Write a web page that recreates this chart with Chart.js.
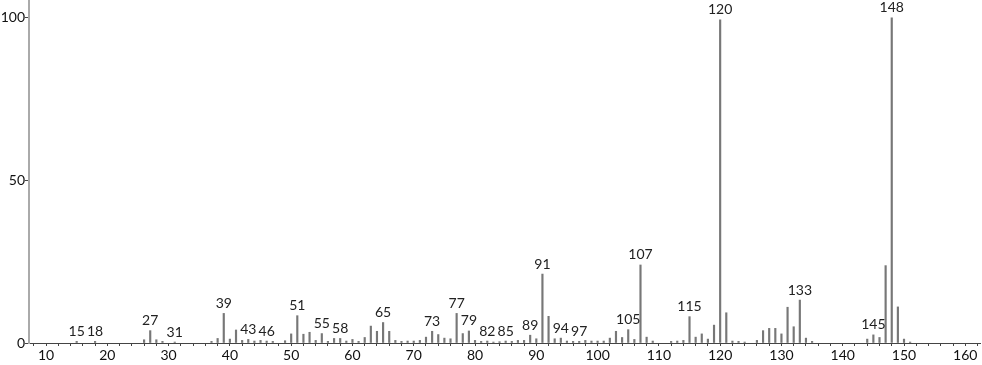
<!DOCTYPE html>
<html lang="en">
<head>
<meta charset="UTF-8">
<title>Mass spectrum</title>
<script src="https://cdn.jsdelivr.net/npm/chart.js@4.4.1/dist/chart.umd.min.js"></script>
<style>
    html, body { margin: 0; padding: 0; background: #fff; }
    #wrap { width: 982px; height: 365px; }
</style>
</head>
<body>
<div id="wrap"><canvas id="spectrum"></canvas></div>
<script>
// m/z and relative intensity
var mz = [15, 18, 26, 27, 28, 29, 31, 37, 38, 39, 40, 41, 42, 43, 44, 45, 46, 47, 49,
          50, 51, 52, 53, 54, 55, 56, 57, 58, 59, 60, 61, 62, 63, 64, 65, 66, 67, 68, 69,
          70, 71, 72, 73, 74, 75, 76, 77, 78, 79, 80, 81, 82, 83, 84, 85, 86, 87, 88, 89,
          90, 91, 92, 93, 94, 95, 96, 97, 98, 99, 100, 101, 102, 103, 104, 105, 106, 107, 108, 109,
          112, 113, 114, 115, 116, 117, 118, 119, 120, 121, 122, 123, 124, 126, 127, 128, 129,
          130, 131, 132, 133, 134, 135, 144, 145, 146, 147, 148, 149, 150, 151];
var intensity = [0.5, 0.5, 1.0, 3.8, 1.0, 0.5, 0.3, 0.5, 1.4, 9.1, 1.2, 4.0, 0.8, 1.1, 0.6, 0.8, 0.6, 0.5, 0.7,
          2.8, 8.4, 2.7, 3.3, 0.8, 2.9, 0.5, 1.4, 1.4, 0.6, 1.1, 0.5, 1.7, 5.2, 3.6, 6.3, 3.6, 0.8, 0.5, 0.6,
          0.6, 0.8, 1.8, 3.6, 2.6, 1.5, 1.3, 9.1, 2.9, 3.7, 0.8, 0.5, 0.6, 0.3, 0.4, 0.6, 0.5, 0.8, 0.8, 2.4,
          1.3, 21.2, 8.2, 1.3, 1.5, 0.6, 0.5, 0.5, 0.8, 0.6, 0.6, 0.6, 1.5, 3.6, 1.7, 4.1, 1.1, 24.0, 1.8, 0.6,
          0.5, 0.6, 0.8, 8.1, 1.8, 2.8, 1.2, 5.5, 99.4, 9.3, 0.6, 0.5, 0.3, 0.8, 3.8, 4.5, 4.5,
          2.8, 11.0, 5.0, 13.2, 1.5, 0.5, 1.2, 2.5, 1.7, 23.8, 100, 11.1, 1.2, 0.3];

// peaks that carry a label
var labelled = [15, 18, 27, 31, 39, 43, 46, 51, 55, 58, 65, 73, 77, 79, 82, 85, 89,
                91, 94, 97, 105, 107, 115, 120, 133, 145, 148];

var xTicks = [];
for (var t = 8; t <= 162; t += 2) xTicks.push(t);
var yTicks = [0, 50, 100];

var fontFamily = "Lato, 'DejaVu Sans', sans-serif";

var points = mz.map(function (m, i) { return { x: m, y: intensity[i] }; });

var peakLabels = {
    id: 'peakLabels',
    afterDatasetsDraw: function (chart) {
        var ctx = chart.ctx;
        var xs = chart.scales.x, ys = chart.scales.y;
        ctx.save();
        ctx.font = '14px ' + fontFamily;
        ctx.fillStyle = '#222';
        ctx.textAlign = 'center';
        ctx.textBaseline = 'bottom';
        labelled.forEach(function (m) {
            var i = mz.indexOf(m);
            if (i < 0) return;
            var px = xs.getPixelForValue(m);
            var py = ys.getPixelForValue(intensity[i]);
            ctx.fillText(String(m), px, py - 3);
        });
        ctx.restore();
    }
};

function noPadding(scale) {
    scale.paddingTop = 0;
    scale.paddingBottom = 0;
    scale.paddingLeft = 0;
    scale.paddingRight = 0;
}

var ctx = document.getElementById('spectrum').getContext('2d');
var myChart = new Chart(ctx, {
    type: 'bar',
    data: {
        datasets: [{
            data: points,
            backgroundColor: '#777',
            barThickness: 1.5
        }]
    },
    options: {
        responsive: true,
        maintainAspectRatio: false,
        animation: false,
        layout: { padding: { top: 0, right: 2, bottom: 0, left: 0 } },
        plugins: {
            legend: { display: false },
            tooltip: { enabled: false }
        },
        scales: {
            x: {
                type: 'linear',
                offset: false,
                min: 7.22,
                max: 162.4,
                afterBuildTicks: function (scale) {
                    scale.ticks = xTicks.map(function (v) { return { value: v }; });
                },
                afterFit: function (scale) { scale.height = 22; noPadding(scale); },
                grid: { drawOnChartArea: false, drawTicks: true, tickLength: 3, color: '#444', offset: false },
                border: { color: '#444', width: 1 },
                ticks: {
                    autoSkip: false,
                    maxRotation: 0,
                    padding: 1,
                    color: '#111',
                    font: { family: fontFamily, size: 14 },
                    callback: function (v) { return v % 10 === 0 ? String(v) : ''; }
                }
            },
            y: {
                min: 0,
                max: 105.5,
                afterBuildTicks: function (scale) {
                    scale.ticks = yTicks.map(function (v) { return { value: v }; });
                },
                afterFit: function (scale) { scale.width = 29; noPadding(scale); },
                grid: { drawOnChartArea: false, drawTicks: true, tickLength: 4, color: '#444' },
                border: { color: '#aaa', width: 2 },
                ticks: {
                    padding: 0,
                    color: '#111',
                    font: { family: fontFamily, size: 14 }
                }
            }
        }
    },
    plugins: [peakLabels]
});
</script>
</body>
</html>
